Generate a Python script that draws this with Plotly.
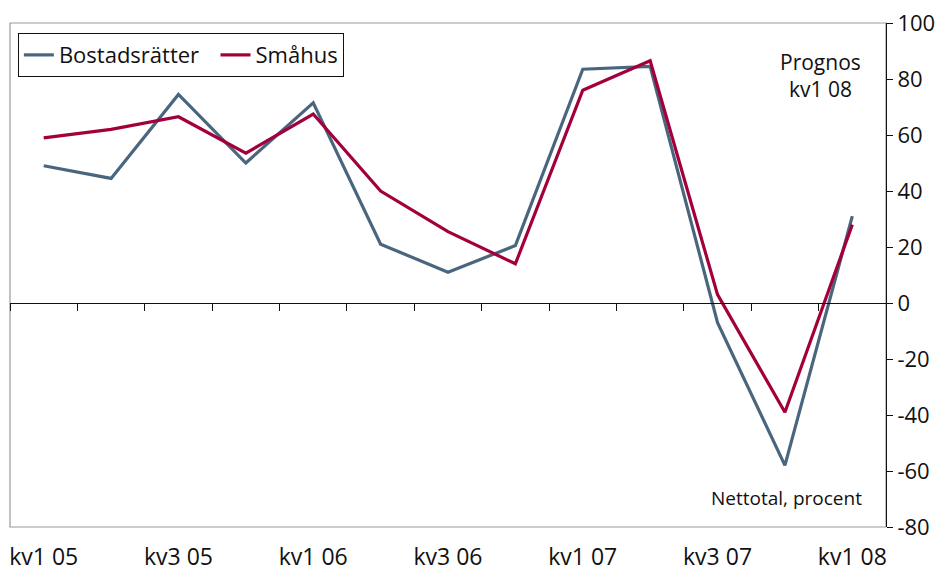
import plotly.graph_objects as go

categories = ["kv1 05", "kv2 05", "kv3 05", "kv4 05", "kv1 06", "kv2 06", "kv3 06",
              "kv4 06", "kv1 07", "kv2 07", "kv3 07", "kv4 07", "kv1 08"]
bostadsratter = [49, 44.5, 74.5, 50, 71.5, 21, 11, 20.5, 83.5, 84.5, -7, -58, 31]
smahus = [59, 62, 66.5, 53.5, 67.5, 40, 25.5, 14, 76, 86.5, 3, -39, 28]
tick_labels = ["kv1 05", "", "kv3 05", "", "kv1 06", "", "kv3 06", "", "kv1 07", "", "kv3 07", "", "kv1 08"]
y_ticks = [100, 80, 60, 40, 20, 0, -20, -40, -60, -80]
y_tick_text = ["100", "80", "60", "40", "20", "0", "-20", "-40", "-60", "-80"]

FONT = "Open Sans"
idx = list(range(len(categories)))
boundaries = [i - 0.5 for i in range(len(categories) + 1)]
ymin, ymax = -80, 100

fig = go.Figure()
fig.add_trace(go.Scatter(x=idx, y=bostadsratter, mode="lines",
                         name="Bostadsrätter\u00a0\u00a0",
                         line=dict(color="#4a667f", width=3.2)))
fig.add_trace(go.Scatter(x=idx, y=smahus, mode="lines", name="Småhus",
                         line=dict(color="#a3003b", width=3.2)))
# invisible trace to carry the zero-line tick axis
fig.add_trace(go.Scatter(x=[idx[0]], y=[0], xaxis="x2", mode="markers",
                         marker=dict(opacity=0), showlegend=False, hoverinfo="skip"))

fig.update_layout(
    width=936, height=564,
    margin=dict(l=2, r=58, t=15, b=45, autoexpand=False),
    paper_bgcolor="white", plot_bgcolor="white",
    font=dict(family=FONT, size=22, color="#111111"),
    showlegend=True,
    legend=dict(orientation="h", x=0.009, y=0.98, xanchor="left", yanchor="top",
                bordercolor="#111111", borderwidth=1, bgcolor="white",
                font=dict(family=FONT, size=22), itemwidth=30,
                tracegroupgap=0),
    xaxis=dict(range=[-0.5, len(categories) - 0.5], tickmode="array",
               tickvals=idx, ticktext=tick_labels, showgrid=False, zeroline=False,
               showline=False, ticks="", ticklabelstandoff=14, automargin=False,
               ticklabeloverflow="allow", tickfont=dict(family=FONT, size=23)),
    xaxis2=dict(overlaying="x", anchor="free",
                position=(0 - ymin) / (ymax - ymin),
                range=[-0.5, len(categories) - 0.5], tickmode="array",
                tickvals=boundaries, showticklabels=False, ticks="outside",
                ticklen=7, tickwidth=1, tickcolor="#111111", automargin=False,
                showline=True, linecolor="#111111", linewidth=1,
                showgrid=False, zeroline=False),
    yaxis=dict(side="right", range=[ymin, ymax], tickmode="array", tickvals=y_ticks,
               ticktext=y_tick_text,
               showgrid=False, zeroline=False, showline=True, linecolor="#111111",
               linewidth=1, ticks="outside", ticklen=6, tickcolor="#111111",
               automargin=False, ticklabeloverflow="allow",
               tickfont=dict(family=FONT, size=22)),
    shapes=[dict(type="rect", xref="paper", yref="paper", x0=0, x1=1, y0=0, y1=1,
                 line=dict(color="#999999", width=1.2), layer="below")],
    annotations=[
        dict(text="Prognos<br>kv1 08", xref="paper", yref="paper",
             x=(820 - 10) / 876, y=(527 - 76) / 504, xanchor="center", yanchor="middle",
             showarrow=False, align="center", font=dict(family=FONT, size=21)),
        dict(text="Nettotal, procent", xref="paper", yref="paper",
             x=(864 - 10) / 876, y=(527 - 498) / 504, xanchor="right", yanchor="middle",
             showarrow=False, font=dict(family=FONT, size=19)),
    ],
)

fig.write_html("out.html")
